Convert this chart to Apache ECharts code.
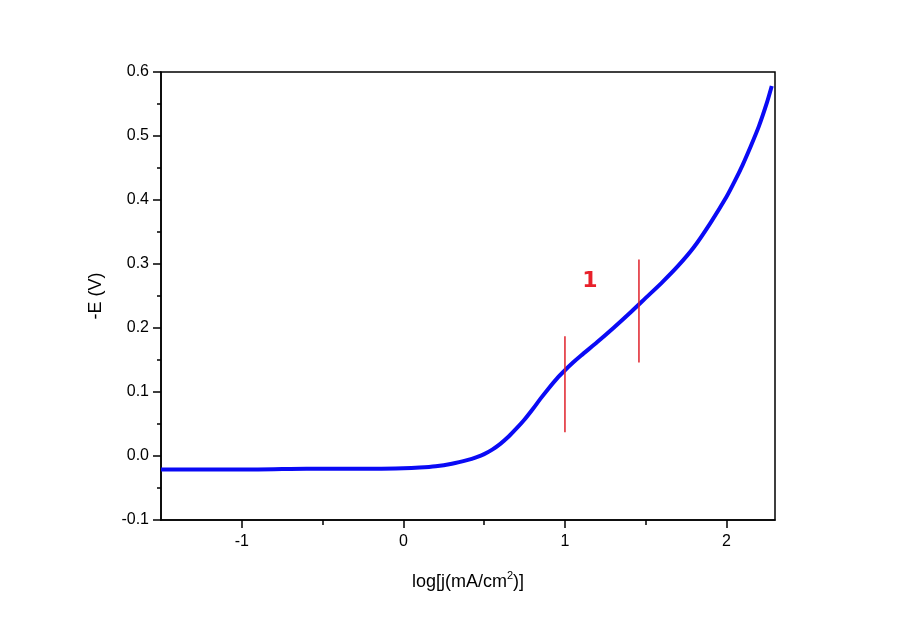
<!DOCTYPE html>
<html>
<head>
<meta charset="utf-8">
<script src="https://cdn.jsdelivr.net/npm/echarts@6/dist/echarts.min.js"></script>
<style>
  html, body { margin: 0; padding: 0; background: #ffffff; }
  #chart { width: 900px; height: 624px; }
</style>
</head>
<body>
<div id="chart"></div>
<script>
// 极化曲线数据 log j vs -E
const logJ = [-1.5, -1.2, -0.9, -0.6, -0.3, 0.0, 0.1, 0.2, 0.3, 0.4, 0.45, 0.5, 0.55, 0.6, 0.65, 0.7, 0.75, 0.8, 0.85, 0.9, 0.95, 1.0, 1.05, 1.1, 1.2, 1.3, 1.4, 1.5, 1.6, 1.7, 1.8, 1.9, 2.0, 2.05, 2.1, 2.15, 2.2, 2.25, 2.28]
const negE = [-0.021, -0.021, -0.021, -0.020, -0.020, -0.019, -0.018, -0.016, -0.012, -0.006, -0.002, 0.003, 0.010, 0.019, 0.030, 0.043, 0.057, 0.073, 0.090, 0.106, 0.121, 0.134, 0.146, 0.157, 0.178, 0.200, 0.223, 0.247, 0.271, 0.297, 0.327, 0.364, 0.405, 0.429, 0.455, 0.484, 0.515, 0.552, 0.578]

// 红色分段竖线
const mark1X = [1.0, 1.0]
const mark1Y = [0.037, 0.187]
const mark2X = [1.458, 1.458]
const mark2Y = [0.146, 0.307]
const regionLabel = [[1.155, 0.273, '1']]

// 刻度
const xMajor = [-1, 0, 1, 2]
const xMinor = [-0.5, 0.5, 1.5]

const zip = (xs, ys) => xs.map((x, i) => [x, ys[i]])

const myChart = echarts.init(document.getElementById('chart'))
const font = 'Liberation Sans, Arial, sans-serif'

const options = {
  backgroundColor: '#ffffff',
  animation: false,
  grid: {
    show: true,
    left: 161,
    right: 125,
    top: 72,
    bottom: 104,
    borderColor: '#000',
    borderWidth: 1.5
  },
  xAxis: [
    {
      type: 'value',
      min: -1.5,
      max: 2.3,
      interval: 0.5,
      name: 'log[j(mA/cm{sup|2})]',
      nameLocation: 'middle',
      nameGap: 50,
      nameTextStyle: {
        color: '#000', fontSize: 18, fontFamily: font,
        rich: { sup: { fontSize: 11, verticalAlign: 'top', padding: [0, 0, 14, 0], fontFamily: font } }
      },
      axisLine: { show: true, onZero: false, lineStyle: { color: '#000', width: 1.5 } },
      axisTick: { show: true, customValues: xMajor, length: 8, lineStyle: { color: '#000', width: 1.5 } },
      axisLabel: { customValues: xMajor, color: '#000', fontSize: 16, fontFamily: font, margin: 14, formatter: v => String(v) },
      splitLine: { show: false }
    },
    {
      type: 'value',
      min: -1.5,
      max: 2.3,
      position: 'bottom',
      axisLine: { show: false, onZero: false },
      axisTick: { show: true, customValues: xMinor, length: 5, lineStyle: { color: '#000', width: 1.5 } },
      axisLabel: { show: false },
      splitLine: { show: false }
    }
  ],
  yAxis: {
    type: 'value',
    min: -0.1,
    max: 0.6,
    interval: 0.1,
    name: '-E (V)',
    nameLocation: 'middle',
    nameGap: 56,
    nameRotate: 90,
    nameTextStyle: { color: '#000', fontSize: 18, fontFamily: font },
    axisLine: { show: true, onZero: false, lineStyle: { color: '#000', width: 1.5 } },
    axisTick: { show: true, length: 8, lineStyle: { color: '#000', width: 1.5 } },
    minorTick: { show: true, splitNumber: 2, length: 4, lineStyle: { color: '#000', width: 1.5 } },
    axisLabel: { color: '#000', fontSize: 16, fontFamily: font, margin: 12, formatter: v => v.toFixed(1) },
    splitLine: { show: false }
  },
  series: [
    {
      type: 'line',
      data: zip(logJ, negE),
      smooth: 0.25,
      showSymbol: false,
      lineStyle: { color: '#0a0af5', width: 4 },
      z: 3
    },
    {
      type: 'line',
      data: zip(mark1X, mark1Y),
      showSymbol: false,
      lineStyle: { color: '#e0202a', width: 1.5 },
      z: 4
    },
    {
      type: 'line',
      data: zip(mark2X, mark2Y),
      showSymbol: false,
      lineStyle: { color: '#e0202a', width: 1.5 },
      z: 4
    },
    {
      type: 'scatter',
      data: regionLabel,
      symbolSize: 1,
      itemStyle: { opacity: 0 },
      label: {
        show: true,
        position: 'inside',
        opacity: 1,
        formatter: p => p.data[2],
        color: '#e8202a',
        fontSize: 22,
        fontWeight: 'bold',
        fontFamily: 'DejaVu Sans, sans-serif'
      }
    }
  ]
}
myChart.setOption(options)
</script>
</body>
</html>
